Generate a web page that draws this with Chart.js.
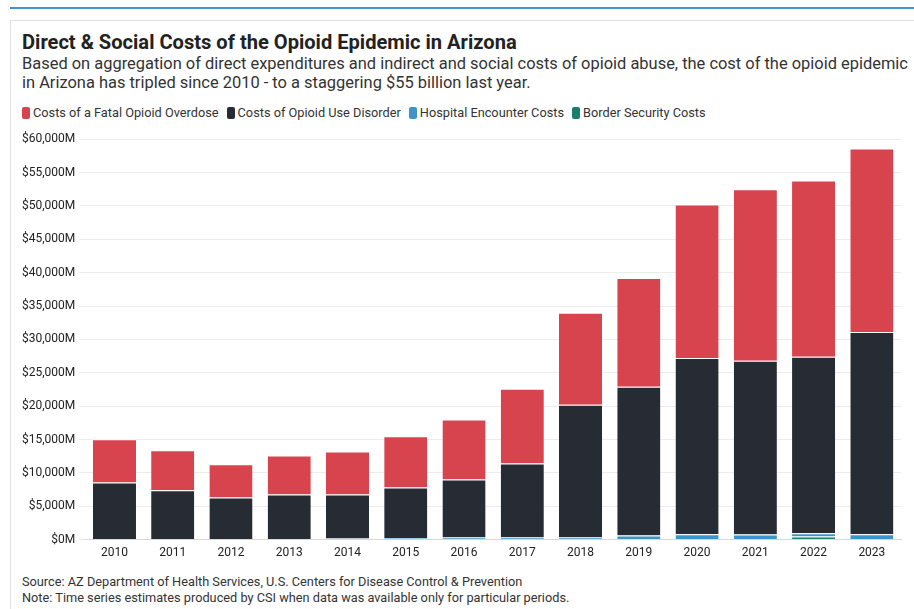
<!DOCTYPE html>
<html>
<head>
<meta charset="utf-8">
<script src="https://cdn.jsdelivr.net/npm/chart.js@4.4.1/dist/chart.umd.min.js"></script>
<style>
  body { margin: 0; background: #fff; font-family: Roboto, "Noto Sans", sans-serif; color: #222; }
  #topline { position: absolute; left: 10px; right: 0; top: 7px; height: 2px; background: #3d94d6; }
  #card { position: absolute; left: 10px; top: 20px; width: 920px; height: 600px; border-left: 1px solid #e2e2e2; border-top: 1px solid #e2e2e2; }
  #title { position: absolute; left: 22px; top: 30px; font-size: 20.1px; font-weight: 700; color: #222; white-space: nowrap; }
  #sub { position: absolute; left: 22px; top: 54px; font-size: 16.45px; line-height: 19px; color: #333; white-space: nowrap; }
  #legend { position: absolute; left: 22px; top: 105px; font-size: 12.75px; color: #333; white-space: nowrap; }
  #legend span.box { display: inline-block; width: 8px; height: 12px; border-radius: 2px; vertical-align: -2px; margin-right: 3px; }
  #legend span.item { margin-right: 8px; }
  #wrap { position: absolute; left: 18px; top: 128px; width: 886px; height: 430px; }
  #foot { position: absolute; left: 22px; top: 574px; font-size: 12.75px; line-height: 16px; color: #333; white-space: nowrap; }
</style>
</head>
<body>
<div id="topline"></div>
<div id="card"></div>
<div id="title">Direct &amp; Social Costs of the Opioid Epidemic in Arizona</div>
<div id="sub">Based on aggregation of direct expenditures and indirect and social costs of opioid abuse, the cost of the opioid epidemic<br>in Arizona has tripled since 2010 - to a staggering $55 billion last year.</div>
<div id="legend"></div>
<div id="wrap"><canvas id="myChart"></canvas></div>
<div id="foot">Source: AZ Department of Health Services, U.S. Centers for Disease Control &amp; Prevention<br>Note: Time series estimates produced by CSI when data was available only for particular periods.</div>
<script>
// years on the x axis
const years = ['2010','2011','2012','2013','2014','2015','2016','2017','2018','2019','2020','2021','2022','2023'];
// values in $ millions
const fatalOverdose = [6480, 6000, 5000, 5830, 6430, 7700, 9000, 11200, 13800, 16300, 23000, 25700, 26400, 27500];
const useDisorder   = [8570, 7400, 6220, 6670, 6620, 7550, 8700, 11100, 19900, 22300, 26400, 26050, 26450, 30300];
const hospital      = [0, 0, 80, 100, 150, 250, 300, 300, 300, 600, 800, 750, 500, 800];
const border        = [0, 0, 0, 0, 0, 0, 0, 0, 0, 0, 0, 0, 450, 0];
const seriesNames = ['Costs of a Fatal Opioid Overdose', 'Costs of Opioid Use Disorder', 'Hospital Encounter Costs', 'Border Security Costs'];
const seriesColors = ['#d7444e', '#272c34', '#3d94c8', '#1b7f6e'];

// legend in html
const leg = document.getElementById('legend');
seriesNames.forEach((n, i) => {
  leg.innerHTML += '<span class="item"><span class="box" style="background:' + seriesColors[i] + '"></span>' + n + '</span>';
});

const values = [fatalOverdose, useDisorder, hospital, border];
// order: stack bottom is the last series
const datasets = values.map((v, i) => ({
  label: seriesNames[i],
  data: v,
  backgroundColor: seriesColors[i],
  borderColor: '#ffffff',
  borderWidth: { top: 1, left: 0, right: 0, bottom: 0 },
  borderSkipped: false,
  order: values.length - i,
  categoryPercentage: 1,
  barPercentage: 0.74
}));

const ctx = document.getElementById('myChart').getContext('2d');
const myChart = new Chart(ctx, {
  type: 'bar',
  data: { labels: years, datasets: datasets },
  options: {
    responsive: true,
    maintainAspectRatio: false,
    animation: false,
    layout: { padding: { top: 10, right: 3, left: 0, bottom: 0 } },
    plugins: { legend: { display: false }, tooltip: { enabled: false } },
    scales: {
      x: {
        stacked: true,
        grid: { display: false },
        border: { color: '#d8d8d8' },
        ticks: { color: '#222', font: { family: 'Roboto', size: 12 }, padding: -2 }
      },
      y: {
        stacked: true,
        min: 0, max: 60000,
        grid: { color: '#ececec', drawTicks: true, tickLength: 6 },
        border: { display: false },
        ticks: {
          stepSize: 5000,
          color: '#222',
          font: { family: 'Roboto', size: 12 },
          padding: 4,
          callback: v => '$' + v.toLocaleString('en-US') + 'M'
        }
      }
    }
  }
});
</script>
</body>
</html>
